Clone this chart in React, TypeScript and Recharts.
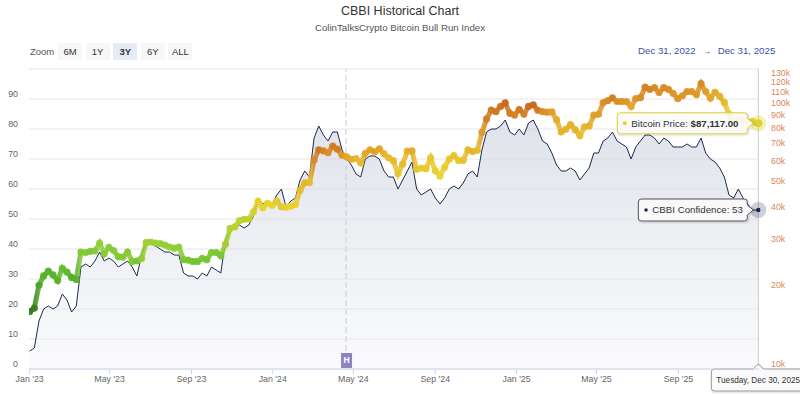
import {
  Area,
  CartesianGrid,
  ComposedChart,
  Line,
  ReferenceDot,
  ReferenceLine,
  XAxis,
  YAxis,
} from 'recharts';

const FONT = '"Liberation Sans", Arial, Helvetica, sans-serif';
const NAVY = '#1c2951';
const GRID = '#e6e6e6';
const AXIS = '#ccd6eb';
const LABEL = '#666666';
const PRICE_LABEL = '#d9875b';

const START_UTC = Date.UTC(2023, 0, 1);
const DAY_MS = 86400000;
const STEP_DAYS = 7;
const RANGE_FROM = '2022-12-31';
const RANGE_TO = '2025-12-31';
const LAST_DATE = '2025-12-30';
const HALVING_DATE = '2024-04-20';

// weekly CBBI confidence, starting Jan 1 2023 (last point = Dec 30 2025)
const cbbi = [
  6, 7, 16, 20, 21, 20, 21, 25, 23, 19, 21, 34, 35, 34, 36, 39, 36, 37, 36, 34,
  35, 36, 34, 31, 38, 42, 42, 41, 40, 39, 39, 38, 38, 32, 31, 31, 30, 32, 31, 34,
  33, 32, 43, 46, 47, 48, 47, 48, 51, 57, 55, 56, 55, 58, 60, 54, 56, 57, 63, 66,
  64, 77, 81, 78, 76, 79, 79, 73, 70, 68, 65, 64, 70, 71, 71, 70, 66, 64, 64, 60,
  63, 66, 69, 60, 58, 59, 60, 57, 55, 57, 60, 61, 60, 62, 65, 66, 64, 73, 79, 80,
  80, 81, 83, 79, 78, 80, 78, 82, 83, 80, 76, 75, 72, 68, 66, 66, 67, 66, 63, 65,
  67, 72, 72, 76, 77, 79, 76, 75, 74, 70, 74, 76, 78, 78, 77, 75, 77, 76, 74, 74,
  74, 75, 74, 74, 77, 72, 70, 69, 67, 64, 58, 57, 60, 57, 55, 53, 53,
];

// weekly bitcoin price, thousands of USD
const btcK = [
  16.6, 17.1, 20.9, 22.7, 23.7, 22.9, 21.8, 24.3, 23.5, 22.4, 22.0, 28.0, 27.9, 28.2, 28.3, 30.3, 27.6, 29.2, 28.4, 26.9,
  26.8, 28.0, 25.8, 25.9, 26.5, 30.5, 30.6, 30.3, 30.2, 29.8, 29.3, 29.0, 29.3, 26.2, 26.1, 25.8, 25.8, 26.5, 26.2, 27.9,
  27.9, 27.1, 30.0, 34.5, 35.0, 37.0, 37.4, 37.5, 39.9, 43.8, 41.4, 43.0, 42.3, 43.9, 41.7, 41.6, 42.0, 42.6, 48.3, 51.6,
  51.7, 63.1, 69.0, 68.4, 67.2, 71.3, 69.4, 65.7, 64.9, 63.4, 63.9, 61.5, 66.9, 69.0, 67.8, 69.6, 66.6, 64.3, 62.7, 55.9,
  60.8, 68.2, 68.3, 58.1, 58.7, 58.4, 64.2, 57.3, 54.8, 59.2, 63.6, 65.6, 62.8, 62.9, 69.0, 67.9, 68.7, 80.5, 90.6, 97.9,
  96.5, 101.1, 104.3, 95.1, 93.7, 98.4, 94.5, 101.1, 102.6, 97.7, 96.5, 96.1, 96.3, 90.0, 80.7, 82.6, 86.1, 82.4, 78.2, 84.5,
  85.1, 93.7, 94.3, 104.6, 106.5, 109.0, 105.6, 105.7, 105.5, 101.0, 108.4, 109.2, 119.8, 117.3, 119.4, 114.2, 119.3, 117.5, 113.5, 108.2,
  111.1, 115.3, 115.2, 112.2, 123.5, 115.2, 108.6, 114.5, 110.6, 104.7, 94.4, 86.8, 90.4, 89.4, 88.2, 88.6, 87.117,
];

const xTickDates = [
  '2023-01-01', '2023-05-01', '2023-09-01', '2024-01-01', '2024-05-01',
  '2024-09-01', '2025-01-01', '2025-05-01', '2025-09-01',
];
const xTickLabels = ["Jan '23", "May '23", "Sep '23", "Jan '24", "May '24", "Sep '24", "Jan '25", "May '25", "Sep '25"];
const leftTicks = [0, 10, 20, 30, 40, 50, 60, 70, 80, 90, 100];
const rightTicks = [10000, 20000, 30000, 40000, 50000, 60000, 70000, 80000, 90000, 100000, 110000, 120000, 130000];
const zoomButtons = ['6M', '1Y', '3Y', '6Y', 'ALL'];
const SELECTED_ZOOM = '3Y';

// colour of the price dots, keyed on CBBI confidence
const colorStops: [number, string][] = [
  [0, '#1f5c14'],
  [12, '#3f9a1e'],
  [25, '#62bd2c'],
  [40, '#93cf38'],
  [48, '#bfd02e'],
  [55, '#e8d42c'],
  [65, '#e6b72a'],
  [75, '#db9224'],
  [83, '#c8681c'],
  [100, '#b03a12'],
];

const toDay = (iso: string) => (Date.parse(iso) - START_UTC) / DAY_MS;

function hex(c: string) {
  return [1, 3, 5].map((i) => parseInt(c.slice(i, i + 2), 16));
}

function colorFor(v: number) {
  for (let i = 1; i < colorStops.length; i++) {
    const [v1, c1] = colorStops[i];
    if (v <= v1) {
      const [v0, c0] = colorStops[i - 1];
      const t = (v - v0) / (v1 - v0);
      const a = hex(c0);
      const b = hex(c1);
      const m = a.map((x, k) => Math.round(x + (b[k] - x) * t));
      return `rgb(${m.join(',')})`;
    }
  }
  return colorStops[colorStops.length - 1][1];
}

const lastDay = toDay(LAST_DATE);
const data = cbbi.map((v, i) => ({
  day: i === cbbi.length - 1 ? lastDay : i * STEP_DAYS,
  cbbi: v,
  btc: btcK[i] * 1000,
}));
const last = data[data.length - 1];
const xTicks = xTickDates.map(toDay);

const priceText = `$${last.btc.toLocaleString('en-US', { minimumFractionDigits: 2, maximumFractionDigits: 2 })}`;
const dateText = new Date(Date.parse(LAST_DATE)).toLocaleDateString('en-US', {
  weekday: 'long',
  month: 'short',
  day: 'numeric',
  year: 'numeric',
  timeZone: 'UTC',
});
const fmtRange = (iso: string) =>
  new Date(Date.parse(iso)).toLocaleDateString('en-US', { month: 'short', day: 'numeric', year: 'numeric', timeZone: 'UTC' });

function LeftTick({ x, y, payload }: any) {
  if (payload.value === 100) return null;
  return (
    <text x={x} y={y - 5} dy="0.35em" textAnchor="end" fontSize={8.8} fill={LABEL} fontFamily={FONT}>
      {payload.value}
    </text>
  );
}

function RightTick({ x, y, payload }: any) {
  return (
    <text x={x} y={y - 5} dy="0.35em" textAnchor="start" fontSize={8.8} fill={PRICE_LABEL} fontFamily={FONT}>
      {`${payload.value / 1000}k`}
    </text>
  );
}

function callout(left: number, right: number, top: number, bottom: number, tipX: number, tipY: number) {
  return `M${left + 3},${top} L${right - 3},${top} Q${right},${top} ${right},${top + 3} L${right},${tipY - 5} L${tipX},${tipY} L${right},${tipY + 5} L${right},${bottom - 3} Q${right},${bottom} ${right - 3},${bottom} L${left + 3},${bottom} Q${left},${bottom} ${left},${bottom - 3} L${left},${top + 3} Q${left},${top} ${left + 3},${top} Z`;
}

function BtcHover({ cx, cy }: any) {
  const col = colorFor(last.cbbi);
  const left = cx - 141;
  const right = cx - 11;
  const d = callout(left, right, cy - 10.5, cy + 10.5, cx - 5, cy);
  return (
    <g>
      <circle cx={cx} cy={cy} r={8} fill={col} fillOpacity={0.35} />
      <circle cx={cx} cy={cy} r={4} fill={col} />
      <path d={d} fill="none" stroke="rgba(0,0,0,0.08)" strokeWidth={3} transform="translate(1,1)" />
      <path d={d} fill="rgba(250,250,250,0.92)" stroke={col} strokeWidth={1} />
      <circle cx={left + 7.5} cy={cy} r={2} fill={col} />
      <text x={left + 14} y={cy} dy="0.35em" fontSize={9.7} fill="#333" fontFamily={FONT}>
        Bitcoin Price: <tspan fontWeight="bold">{priceText}</tspan>
      </text>
    </g>
  );
}

function CbbiHover({ cx, cy }: any) {
  const left = cx - 120;
  const right = cx - 11;
  const d = callout(left, right, cy - 11, cy + 11, cx - 5, cy);
  return (
    <g>
      <circle cx={cx} cy={cy} r={8} fill={NAVY} fillOpacity={0.22} />
      <circle cx={cx} cy={cy} r={2.2} fill={NAVY} />
      <path d={d} fill="none" stroke="rgba(0,0,0,0.08)" strokeWidth={3} transform="translate(1,1)" />
      <path d={d} fill="rgba(250,250,250,0.92)" stroke="#555" strokeWidth={1} />
      <circle cx={left + 7.7} cy={cy} r={1.8} fill={NAVY} />
      <text x={left + 14} y={cy} dy="0.35em" fontSize={9.7} fill="#333" fontFamily={FONT}>
        {`CBBI Confidence: ${last.cbbi}`}
      </text>
    </g>
  );
}

function DateHover({ viewBox }: any) {
  const x = viewBox.x;
  const top = viewBox.y + viewBox.height;
  const bottom = top + 22;
  const left = x - 47;
  const right = x + 60;
  const d = `M${left + 3},${top} L${x - 5},${top} L${x},${top - 5} L${x + 5},${top} L${right},${top} L${right},${bottom} L${left + 3},${bottom} Q${left},${bottom} ${left},${bottom - 3} L${left},${top + 3} Q${left},${top} ${left + 3},${top} Z`;
  return (
    <g>
      <path d={d} fill="none" stroke="rgba(0,0,0,0.08)" strokeWidth={3} transform="translate(1,1)" />
      <path d={d} fill="rgba(250,250,250,0.95)" stroke="#999" strokeWidth={1} />
      <text x={left + 5} y={(top + bottom) / 2} dy="0.35em" fontSize={8.2} fill="#333" fontFamily={FONT}>
        {dateText}
      </text>
    </g>
  );
}

function HalvingLabel({ viewBox }: any) {
  const x = viewBox.x;
  const bottom = viewBox.y + viewBox.height;
  return (
    <g>
      <rect x={x - 5} y={bottom - 16} width={11} height={15} fill="#8d82c4" />
      <text x={x + 0.5} y={bottom - 8.5} dy="0.35em" textAnchor="middle" fontSize={8.5} fontWeight="bold" fill="#fff" fontFamily={FONT}>
        H
      </text>
    </g>
  );
}

function BtcDot(props: any) {
  const { cx, cy, payload, index } = props;
  if (cx == null || cy == null) return <g key={index} />;
  return <circle key={index} cx={cx} cy={cy} r={3.6} fill={colorFor(payload.cbbi)} fillOpacity={0.9} />;
}

export default function App() {
  return (
    <div style={{ position: 'absolute', left: 0, top: 0, width: 800, height: 396, background: '#fff', fontFamily: FONT, overflow: 'hidden' }}>
      <div style={{ position: 'absolute', top: 4, width: 800, textAlign: 'center', fontSize: 12.5, color: '#333' }}>
        CBBI Historical Chart
      </div>
      <div style={{ position: 'absolute', top: 22, width: 800, textAlign: 'center', fontSize: 9.7, color: '#555' }}>
        ColinTalksCrypto Bitcoin Bull Run Index
      </div>
      <div style={{ position: 'absolute', top: 43, left: 30, height: 17, display: 'flex', alignItems: 'center', fontSize: 9.5, color: '#555' }}>
        <span style={{ width: 28 }}>Zoom</span>
        {zoomButtons.map((b) => (
          <span
            key={b}
            style={{
              width: 24,
              height: 17,
              marginRight: 3.6,
              lineHeight: '17px',
              textAlign: 'center',
              background: b === SELECTED_ZOOM ? '#e6ebf5' : '#f7f7f7',
              color: '#333',
              fontWeight: b === SELECTED_ZOOM ? 'bold' : 'normal',
            }}
          >
            {b}
          </span>
        ))}
      </div>
      <div style={{ position: 'absolute', top: 45, left: 638, fontSize: 9.7, color: '#3b53a3', whiteSpace: 'nowrap' }}>
        {fmtRange(RANGE_FROM)}
        <span style={{ margin: '0 7px', fontSize: 8, color: '#333' }}>→</span>
        {fmtRange(RANGE_TO)}
      </div>
      <ComposedChart width={800} height={396} data={data} margin={{ top: 69, right: 0, bottom: 0, left: 0 }} style={{ position: 'absolute', left: 0, top: 0 }}>
        <defs>
          <linearGradient id="cbbiFill" x1="0" y1="0" x2="0" y2="1">
            <stop offset="0%" stopColor="#c6ccd9" stopOpacity={0.95} />
            <stop offset="100%" stopColor="#f3f4f7" stopOpacity={0.7} />
          </linearGradient>
          <linearGradient id="btcStroke" x1="0" y1="0" x2="1" y2="0">
            {data.map((p) => (
              <stop key={p.day} offset={p.day / lastDay} stopColor={colorFor(p.cbbi)} />
            ))}
          </linearGradient>
        </defs>
        <CartesianGrid vertical={false} stroke={GRID} yAxisId="left" />
        <XAxis
          dataKey="day"
          type="number"
          domain={[toDay(RANGE_FROM), toDay(RANGE_TO)]}
          ticks={xTicks}
          interval={0}
          tickFormatter={(d: number) => xTickLabels[xTicks.indexOf(d)] ?? ''}
          height={27}
          stroke={AXIS}
          tickSize={5}
          tickMargin={2}
          tick={{ fontSize: 8.8, fill: LABEL, fontFamily: FONT }}
          allowDataOverflow
        />
        <YAxis
          yAxisId="left"
          domain={[0, 100]}
          ticks={leftTicks}
          interval={0}
          width={29}
          axisLine={false}
          tickLine={false}
          tickSize={0}
          tickMargin={11}
          tick={<LeftTick />}
        />
        <YAxis
          yAxisId="right"
          orientation="right"
          scale="log"
          domain={[10000, 140600]}
          ticks={rightTicks}
          interval={0}
          width={41}
          axisLine={false}
          tickLine={false}
          tickSize={0}
          tickMargin={12}
          tick={<RightTick />}
          allowDataOverflow
        />
        <Area
          yAxisId="left"
          dataKey="cbbi"
          type="linear"
          stroke={NAVY}
          strokeWidth={1}
          fill="url(#cbbiFill)"
          dot={false}
          activeDot={false}
          isAnimationActive={false}
        />
        <Line
          yAxisId="right"
          dataKey="btc"
          type="linear"
          stroke="url(#btcStroke)"
          strokeWidth={5}
          strokeOpacity={0.85}
          dot={BtcDot}
          activeDot={false}
          isAnimationActive={false}
        />
        <ReferenceLine
          yAxisId="left"
          x={toDay(HALVING_DATE)}
          stroke="#c9c9e3"
          strokeDasharray="6 3"
          label={<HalvingLabel />}
        />
        <ReferenceLine yAxisId="left" x={last.day} stroke="#cccccc" label={<DateHover />} />
        <ReferenceDot yAxisId="left" x={last.day} y={last.cbbi} shape={<CbbiHover />} />
        <ReferenceDot yAxisId="right" x={last.day} y={last.btc} shape={<BtcHover />} />
      </ComposedChart>
    </div>
  );
}
